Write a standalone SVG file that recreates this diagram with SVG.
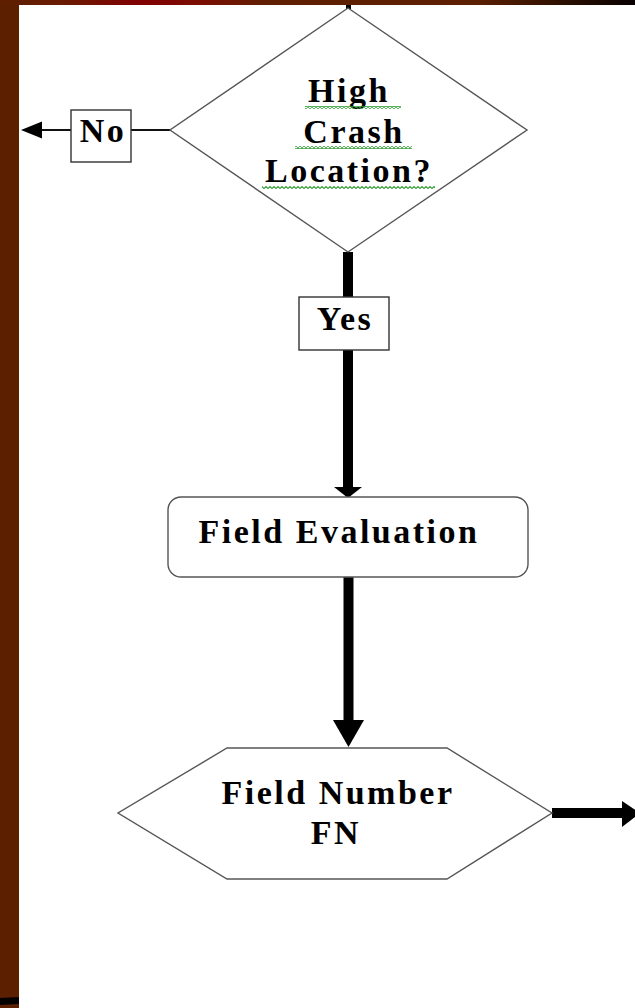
<svg xmlns="http://www.w3.org/2000/svg" width="635" height="1008" viewBox="0 0 635 1008">
  <defs>
    <linearGradient id="topBand" x1="0" y1="0" x2="635" y2="0" gradientUnits="userSpaceOnUse">
      <stop offset="0" stop-color="#5c1f00"/>
      <stop offset="0.1" stop-color="#6a1a00"/>
      <stop offset="0.22" stop-color="#800000"/>
      <stop offset="0.32" stop-color="#7a0e00"/>
      <stop offset="0.42" stop-color="#5f1e00"/>
      <stop offset="0.75" stop-color="#5c1f00"/>
      <stop offset="0.88" stop-color="#2e1000"/>
      <stop offset="1" stop-color="#080000"/>
    </linearGradient>
    <pattern id="squiggle" x="0" y="0" width="4" height="3" patternUnits="userSpaceOnUse">
      <path d="M-1,1.5 L0,2.5 L2,0.5 L4,2.5 L5,1.5" fill="none" stroke="#2f9e35" stroke-width="1.1"/>
    </pattern>
  </defs>
  <style>
    .shape { fill: #fff; stroke: #555; stroke-width: 1.4; }
    .box { fill: #fff; stroke: #333; stroke-width: 1.4; }
    .label { font-family: "Liberation Serif", "Times New Roman", "DejaVu Serif", serif; font-weight: bold; font-size: 34px; letter-spacing: 2.5px; fill: #000; text-anchor: middle; }
    .thin { stroke: #111; stroke-width: 2; fill: none; }
    .thick { stroke: #000; stroke-width: 10; fill: none; }
    .squig { fill: url(#squiggle); }
  </style>

  <!-- slide background and frame -->
  <rect x="0" y="0" width="635" height="1008" fill="#5c1f00"/>
  <rect x="0" y="0" width="635" height="5" fill="url(#topBand)"/>
  <rect x="19" y="5" width="616" height="1003" fill="#fff"/>
  <path d="M0,998 L19,997 L19,1004 L0,1005 Z" fill="#050000"/>

  <!-- connectors -->
  <g id="connectors">
    <line x1="348.5" y1="5" x2="348.5" y2="9" stroke="#000" stroke-width="5"/>
    <!-- No branch -->
    <line class="thin" x1="170" y1="130" x2="131" y2="130"/>
    <line class="thin" x1="71" y1="130" x2="40" y2="130"/>
    <path d="M21,130 L42,121.5 L42,138.5 Z" fill="#000"/>
    <!-- Yes branch -->
    <line class="thick" x1="348" y1="252" x2="348" y2="297"/>
    <line class="thick" x1="348" y1="350" x2="348" y2="490"/>
    <path d="M334,487 L362,487 L348,498 Z" fill="#000"/>
    <!-- evaluation to field number -->
    <line class="thick" x1="348.5" y1="577" x2="348.5" y2="722"/>
    <path d="M333,720 L364,720 L348.5,747 Z" fill="#000"/>
    <!-- outgoing -->
    <line class="thick" x1="552" y1="813" x2="624" y2="813"/>
    <path d="M622,801 L640,813 L622,827 Z" fill="#000"/>
  </g>

  <!-- decision: high crash location -->
  <g id="node-decision">
    <polygon class="shape" points="348,8 527,130 348,252 170,130"/>
    <text class="label" x="349" y="102">High</text>
    <text class="label" x="354" y="143">Crash</text>
    <text class="label" x="349" y="182">Location?</text>
    <rect class="squig" x="305" y="106" width="96" height="3"/>
    <rect class="squig" x="295" y="146" width="117" height="3"/>
    <rect class="squig" x="262" y="186" width="173" height="3"/>
  </g>

  <!-- No label -->
  <g id="node-no">
    <rect class="box" x="71" y="110" width="60" height="52"/>
    <text class="label" x="103" y="142">No</text>
  </g>

  <!-- Yes label -->
  <g id="node-yes">
    <rect class="box" x="299" y="297" width="90" height="53"/>
    <text class="label" x="345" y="330">Yes</text>
  </g>

  <!-- field evaluation -->
  <g id="node-evaluation">
    <rect class="shape" x="168" y="497" width="360" height="80" rx="13" ry="13"/>
    <text class="label" x="339" y="543">Field Evaluation</text>
  </g>

  <!-- field number -->
  <g id="node-field-number">
    <polygon class="shape" points="227,748 447,748 552,813 447,879 227,879 118,813"/>
    <text class="label" x="338" y="804">Field Number</text>
    <text class="label" x="336" y="844">FN</text>
  </g>
</svg>
